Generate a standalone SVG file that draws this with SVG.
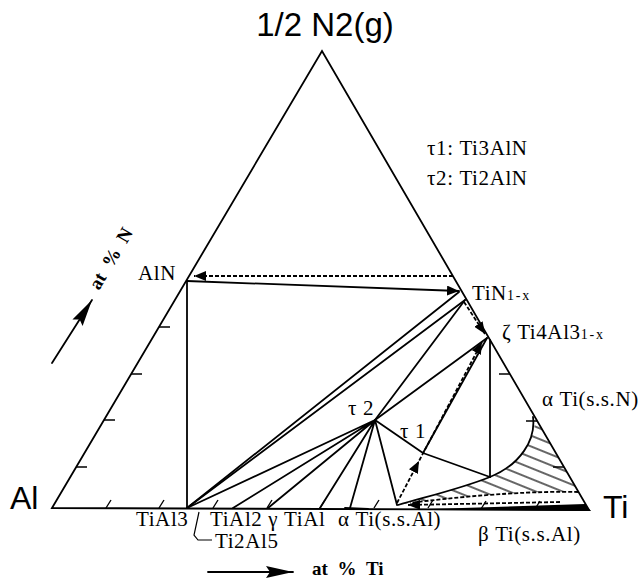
<svg xmlns="http://www.w3.org/2000/svg" width="642" height="580" viewBox="0 0 642 580">
<style>
.ln{stroke:#000;stroke-width:1.8;fill:none;stroke-linecap:round}
.thin{stroke:#000;stroke-width:1.2;fill:none}
.dash{stroke:#000;stroke-width:1.8;fill:none;stroke-dasharray:4 2}
.tick{stroke:#000;stroke-width:1.4;fill:none}
.sr{font-family:"Liberation Serif","Times New Roman",serif;font-size:21px;letter-spacing:0.6px;fill:#000}
.sub{font-size:14px;letter-spacing:1.8px}
.ss{font-family:"Liberation Sans",Arial,sans-serif;fill:#000}
.bd{font-family:"Liberation Serif","Times New Roman",serif;font-weight:bold;font-size:19px;fill:#000;word-spacing:5px}
</style>
<defs>
<marker id="ah" markerUnits="userSpaceOnUse" markerWidth="14" markerHeight="10" refX="12" refY="5" orient="auto">
<path d="M0,0 L12,5 L0,10 Z" fill="#000"/>
</marker>
<marker id="big" markerUnits="userSpaceOnUse" markerWidth="28" markerHeight="12" refX="27" refY="6" orient="auto">
<path d="M0,0 L27,6 L0,12 L4,6 Z" fill="#000"/>
</marker>
<pattern id="hatch" patternUnits="userSpaceOnUse" width="10" height="10" patternTransform="rotate(22)">
<line x1="0" y1="5" x2="10" y2="5" stroke="#000" stroke-width="1.2"/>
</pattern>
</defs>

<g id="frame">
<path class="ln" d="M52,508 L322,51 L589,510 Z" stroke-width="2"/>
<g id="ticks">
<path class="tick" d="M76,467 h11 M104,420 h11 M131,374 h11 M159,327 h11"/>
<path class="tick" d="M564,467 h-11 M537,421 h-11 M510,374 h-11"/>
<path class="tick" d="M106,508 l5,-8 M159,508 l5,-8 M213,508 l5,-8 M267,508 l5,-8 M320,508 l5,-8 M374,508 l5,-8 M428,508 l5,-8 M481,509 l5,-8 M535,509 l5,-8"/>
</g>
</g>

<g id="hatched-region">
<path d="M535,417 C536,440 520,465 490,477 C460,489 425,497 398,505 L410,503 C480,494 540,491 578,492 Z" fill="url(#hatch)"/>
<path class="ln" d="M533,417 C536,440 520,465 490,477 C460,489 425,497 398,505"/>
<path class="dash" stroke-width="1.4" d="M578,492 C540,491 480,494 410,503"/>
<path d="M430,509 L585,504 L591,511 L430,510 Z" fill="#000"/>
<path class="ln" stroke-width="3.5" d="M345,508 L368,509"/>
<path class="dash" stroke-width="1.6" d="M560,502 L408,505" marker-end="url(#ah)"/>
</g>

<g id="connectors">
<path class="ln" d="M187,281 L187,508"/>
<path class="ln" d="M187,281 L459,291" marker-end="url(#ah)"/>
<path class="dash" d="M453,276 L194,276" marker-end="url(#ah)"/>
<path class="dash" d="M464,302 L485,334" marker-end="url(#ah)"/>
<path class="ln" d="M187,508 L459,292"/>
<path class="ln" d="M187,508 L465,300"/>
<path class="ln" d="M375,420 L465,300"/>
<path class="ln" d="M375,420 L487,338"/>
<path class="ln" stroke-width="2.4" d="M487,338 L423,453"/>
<path class="dash" d="M397,503 L419,461 L482,342" marker-mid="url(#ah)" marker-end="url(#ah)"/>
<path class="ln" d="M490,340 L490,477"/>
<path class="ln" d="M423,453 L490,477"/>
<path class="ln" d="M375,420 L423,453"/>
<path class="ln" d="M375,420 L187,508 M375,420 L233,508 M375,420 L268,508 M375,420 L320,508 M375,420 L350,508 M375,420 L397,505"/>
<path class="thin" d="M199,512 L194,535 L198,540 L212,540"/>
<path class="ln" d="M52,363 L92,300" marker-end="url(#big)"/>
<path class="ln" d="M208,572 L293,572" marker-end="url(#big)"/>
</g>

<g id="labels">
<text class="ss" x="325" y="36" font-size="33" text-anchor="middle">1/2 N2(g)</text>
<text class="ss" x="10" y="509" font-size="32">Al</text>
<text class="ss" x="603" y="518" font-size="32">Ti</text>
<text class="sr" x="427" y="155">τ1: Ti3AlN</text>
<text class="sr" x="427" y="185">τ2: Ti2AlN</text>
<text class="sr" x="138" y="280">AlN</text>
<text class="sr" x="472" y="300">TiN<tspan class="sub">1-x</tspan></text>
<text class="sr" x="502" y="339">ζ Ti4Al3<tspan class="sub">1-x</tspan></text>
<text class="sr" x="542" y="406" font-size="20">α Ti(s.s.N)</text>
<text class="sr" x="348" y="415">τ 2</text>
<text class="sr" x="400" y="438">τ 1</text>
<text class="sr" x="136" y="526">TiAl3</text>
<text class="sr" x="210" y="526">TiAl2 γ TiAl</text>
<text class="sr" x="215" y="548">Ti2Al5</text>
<text class="sr" x="338" y="526">α Ti(s.s.Al)</text>
<text class="sr" x="478" y="541">β Ti(s.s.Al)</text>
<text class="bd" x="312" y="575">at % Ti</text>
<text class="bd" transform="translate(99,291) rotate(-59.5)">at % N</text>
</g>
</svg>
